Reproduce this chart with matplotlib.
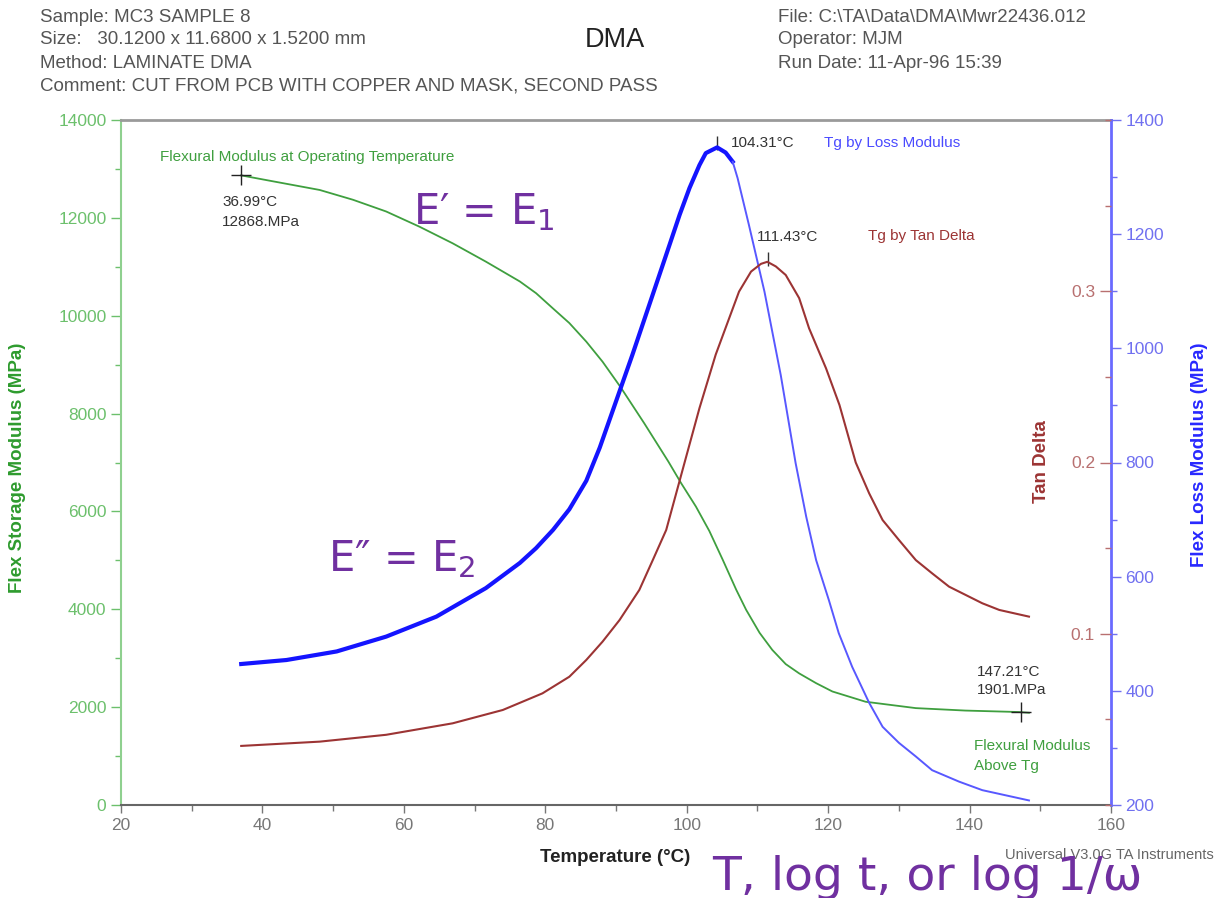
import matplotlib
matplotlib.use("Agg")
import matplotlib.pyplot as plt
from matplotlib.ticker import MultipleLocator

plt.rcParams["font.family"] = ["Liberation Sans", "DejaVu Sans"]

# Flex storage modulus (E') vs temperature
storage_temp = [37.0, 41.0, 48.1, 52.8, 57.5, 62.2, 66.9, 71.6, 76.4, 78.7, 81.0, 83.4,
                85.8, 88.1, 90.6, 94.0, 97.4, 99.2, 101.3, 103.2, 105.1, 107.0, 108.4,
                110.3, 112.1, 114.0, 115.9, 118.3, 120.6, 125.3, 132.4, 139.4, 147.0, 148.4]
storage_mpa = [12868, 12760, 12570, 12370, 12130, 11820, 11480, 11105, 10700, 10460, 10160, 9850,
               9470, 9060, 8550, 7800, 7020, 6580, 6100, 5600, 5010, 4400, 3990,
               3520, 3170, 2880, 2690, 2490, 2320, 2110, 1980, 1930, 1900, 1885]

# Flex loss modulus (E'') vs temperature
loss_temp = [37.0, 43.4, 50.5, 57.5, 64.6, 71.6, 76.4, 78.7, 81.1, 83.4, 85.8, 87.7,
             90.0, 92.3, 94.7, 97.1, 99.0, 100.4, 101.8, 102.7, 104.3, 105.5, 106.5,
             107.2, 108.8, 111.0, 113.3, 115.4, 116.9, 118.3, 120.1, 121.5, 123.4, 125.8,
             127.7, 130.0, 132.4, 134.7, 138.5, 141.8, 148.4]
loss_mpa = [447, 454, 469, 495, 530, 580, 624, 650, 682, 718, 768, 826,
            907, 988, 1076, 1164, 1234, 1281, 1321, 1342, 1352, 1343, 1327,
            1298, 1216, 1099, 953, 799, 705, 629, 559, 501, 442, 379,
            337, 309, 285, 261, 241, 226, 208]

# Tan delta vs temperature
tan_temp = [37.0, 48.1, 57.5, 66.9, 74.0, 79.6, 83.4, 85.8, 88.1, 90.5, 93.3, 95.2,
            97.1, 99.7, 101.8, 104.1, 106.0, 107.4, 109.1, 110.5, 111.4, 112.6, 114.0,
            115.9, 117.3, 119.7, 121.6, 123.9, 125.8, 127.7, 130.0, 132.4, 134.7, 137.1,
            141.8, 144.2, 148.4]
tan_delta = [0.0345, 0.037, 0.041, 0.0477, 0.0555, 0.0652, 0.0749, 0.0847, 0.0954, 0.108,
             0.1256, 0.143, 0.1606, 0.200, 0.2317, 0.263, 0.2842, 0.2998, 0.3115, 0.316,
             0.3172, 0.3145, 0.3095, 0.296, 0.2784, 0.255, 0.2336, 0.200, 0.182, 0.1664,
             0.1548, 0.143, 0.1353, 0.1275, 0.1178, 0.1139, 0.110]

# annotated points
op_point = (36.99, 12868)
above_tg_point = (147.21, 1901)
tg_loss = (104.31, 1360)
tg_tan = (111.43, 0.319)

GREEN_LINE = "#3f9f3f"
GREEN_TICK = "#6cc06c"
GREEN_LABEL = "#2e9b2e"
BLUE_LINE = "#1414ff"
BLUE_THIN = "#5858ff"
BLUE_TICK = "#7070f0"
RED_LINE = "#9c3434"
RED_TICK = "#b87070"
PURPLE = "#7030a0"
GRAY_TEXT = "#555555"

W, H = 1214, 898
fig = plt.figure(figsize=(W / 100, H / 100), dpi=100)


def fx(px):
    return px / W


def fy(py):
    return 1 - py / H


def ftext(x, y, s, **kw):
    fig.text(fx(x), fy(y), s, **kw)


ax = fig.add_axes([fx(121), fy(805), fx(1111) - fx(121), fy(120) - fy(805)])
ax_loss = ax.twinx()
ax_tan = ax.twinx()

# storage modulus (left axis)
ax.plot(storage_temp, storage_mpa, color=GREEN_LINE, lw=1.3, zorder=3)
ax.plot(*op_point, marker="+", ms=14, mew=1.0, color="#222222", zorder=5)
ax.plot(*above_tg_point, marker="+", ms=14, mew=1.0, color="#222222", zorder=5)
ax.set_xlim(20, 160)
ax.set_ylim(0, 14000)
ax.xaxis.set_major_locator(MultipleLocator(20))
ax.xaxis.set_minor_locator(MultipleLocator(10))
ax.yaxis.set_major_locator(MultipleLocator(2000))
ax.yaxis.set_minor_locator(MultipleLocator(1000))
ax.tick_params(axis="y", which="major", length=7, width=1, colors=GREEN_TICK, labelsize=12.5)
ax.tick_params(axis="y", which="minor", length=4, width=1, colors=GREEN_TICK)
ax.tick_params(axis="x", which="major", length=6, width=1, colors="#777777", labelsize=12.5)
ax.tick_params(axis="x", which="minor", length=4, width=1, colors="#777777")
ax.spines["left"].set_color("#8fd08f")
ax.spines["left"].set_linewidth(1.5)
ax.spines["bottom"].set_color("#666666")
ax.spines["bottom"].set_linewidth(1.5)
ax.spines["top"].set_color("#9a9a9a")
ax.spines["top"].set_linewidth(2)
ax.spines["right"].set_visible(False)

# loss modulus (right axis); noisy rising part drawn heavier, as in the scan
split = loss_temp.index(106.5) + 1
ax_loss.plot(loss_temp[:split], loss_mpa[:split], color=BLUE_LINE, lw=3.0, zorder=3)
ax_loss.plot(loss_temp[split - 1:], loss_mpa[split - 1:], color=BLUE_THIN, lw=1.4, zorder=3)
ax_loss.plot(*tg_loss, marker="|", ms=10, mew=1.0, color="#333333")
ax_loss.set_ylim(200, 1400)
ax_loss.yaxis.set_major_locator(MultipleLocator(200))
ax_loss.yaxis.set_minor_locator(MultipleLocator(100))
ax_loss.tick_params(axis="y", which="major", length=7, width=1, colors=BLUE_TICK, labelsize=12.5)
ax_loss.tick_params(axis="y", which="minor", length=4, width=1, colors=BLUE_TICK)
for side in ["left", "top", "bottom"]:
    ax_loss.spines[side].set_visible(False)
ax_loss.spines["right"].set_color("#6a6aff")
ax_loss.spines["right"].set_linewidth(2)

# tan delta (ticks on the inner side of the right spine)
ax_tan.plot(tan_temp, tan_delta, color=RED_LINE, lw=1.5, zorder=3)
ax_tan.plot(*tg_tan, marker="|", ms=10, mew=1.0, color="#333333")
ax_tan.set_ylim(0, 0.4)
ax_tan.spines["left"].set_position(("axes", 1.0))
ax_tan.yaxis.set_ticks_position("left")
ax_tan.yaxis.set_minor_locator(MultipleLocator(0.05))
ax_tan.set_yticks([0.1, 0.2, 0.3])
ax_tan.set_yticklabels(["0.1", "0.2", "0.3"])
ax_tan.tick_params(axis="y", which="major", length=8, width=1, colors=RED_TICK, labelsize=12.5)
ax_tan.tick_params(axis="y", which="minor", length=4, width=1, colors=RED_TICK)
for side in ["left", "right", "top", "bottom"]:
    ax_tan.spines[side].set_visible(False)

# axis titles
ftext(18, 468, "Flex Storage Modulus (MPa)", rotation=90, ha="center", va="center",
      color=GREEN_LABEL, fontsize=13.5, fontweight="bold")
ftext(1200, 455, "Flex Loss Modulus (MPa)", rotation=90, ha="center", va="center",
      color="#2828ff", fontsize=13.5, fontweight="bold")
ftext(1041, 462, "Tan Delta", rotation=90, ha="center", va="center",
      color=RED_LINE, fontsize=13.5, fontweight="bold")
ftext(615, 858, "Temperature (°C)", ha="center", va="center",
      color="#222222", fontsize=13.5, fontweight="bold")
ftext(1005, 855, "Universal V3.0G TA Instruments", ha="left", va="center",
      color="#666666", fontsize=10.5)

# header
for i, line in enumerate(["Sample: MC3 SAMPLE 8",
                          "Size:   30.1200 x 11.6800 x 1.5200 mm",
                          "Method: LAMINATE DMA",
                          "Comment: CUT FROM PCB WITH COPPER AND MASK, SECOND PASS"]):
    ftext(40, 17 + i * 23, line, ha="left", va="center", color=GRAY_TEXT, fontsize=13.5)
for i, line in enumerate(["File: C:\\TA\\Data\\DMA\\Mwr22436.012",
                          "Operator: MJM",
                          "Run Date: 11-Apr-96 15:39"]):
    ftext(778, 17 + i * 23, line, ha="left", va="center", color=GRAY_TEXT, fontsize=13.5)
ftext(615, 40, "DMA", ha="center", va="center", color="#222222", fontsize=19.5)

# in-plot annotations
small = dict(ha="left", va="center", fontsize=11)
ftext(160, 157, "Flexural Modulus at Operating Temperature", color=GREEN_LINE, **small)
ftext(222, 202, "36.99°C", color="#333333", **small)
ftext(222, 222, "12868.MPa", color="#333333", **small)
ftext(731, 143, "104.31°C", color="#333333", **small)
ftext(824, 143, "Tg by Loss Modulus", color="#4a4aff", **small)
ftext(757, 237, "111.43°C", color="#333333", **small)
ftext(868, 236, "Tg by Tan Delta", color=RED_LINE, **small)
ftext(977, 672, "147.21°C", color="#333333", **small)
ftext(977, 690, "1901.MPa", color="#333333", **small)
ftext(974, 746, "Flexural Modulus", color=GREEN_LINE, **small)
ftext(974, 766, "Above Tg", color=GREEN_LINE, **small)

# big purple labels
big = dict(color=PURPLE, family=["DejaVu Sans"], ha="left", va="baseline")
ftext(413, 224, "E\u2032 = E$_1$", fontsize=30, **big)
ftext(328, 571, "E\u2033 = E$_2$", fontsize=30, **big)
ftext(712, 890, "T, log t, or log 1/\u03c9", fontsize=34, **big)

fig.savefig("out.png", dpi=100)
